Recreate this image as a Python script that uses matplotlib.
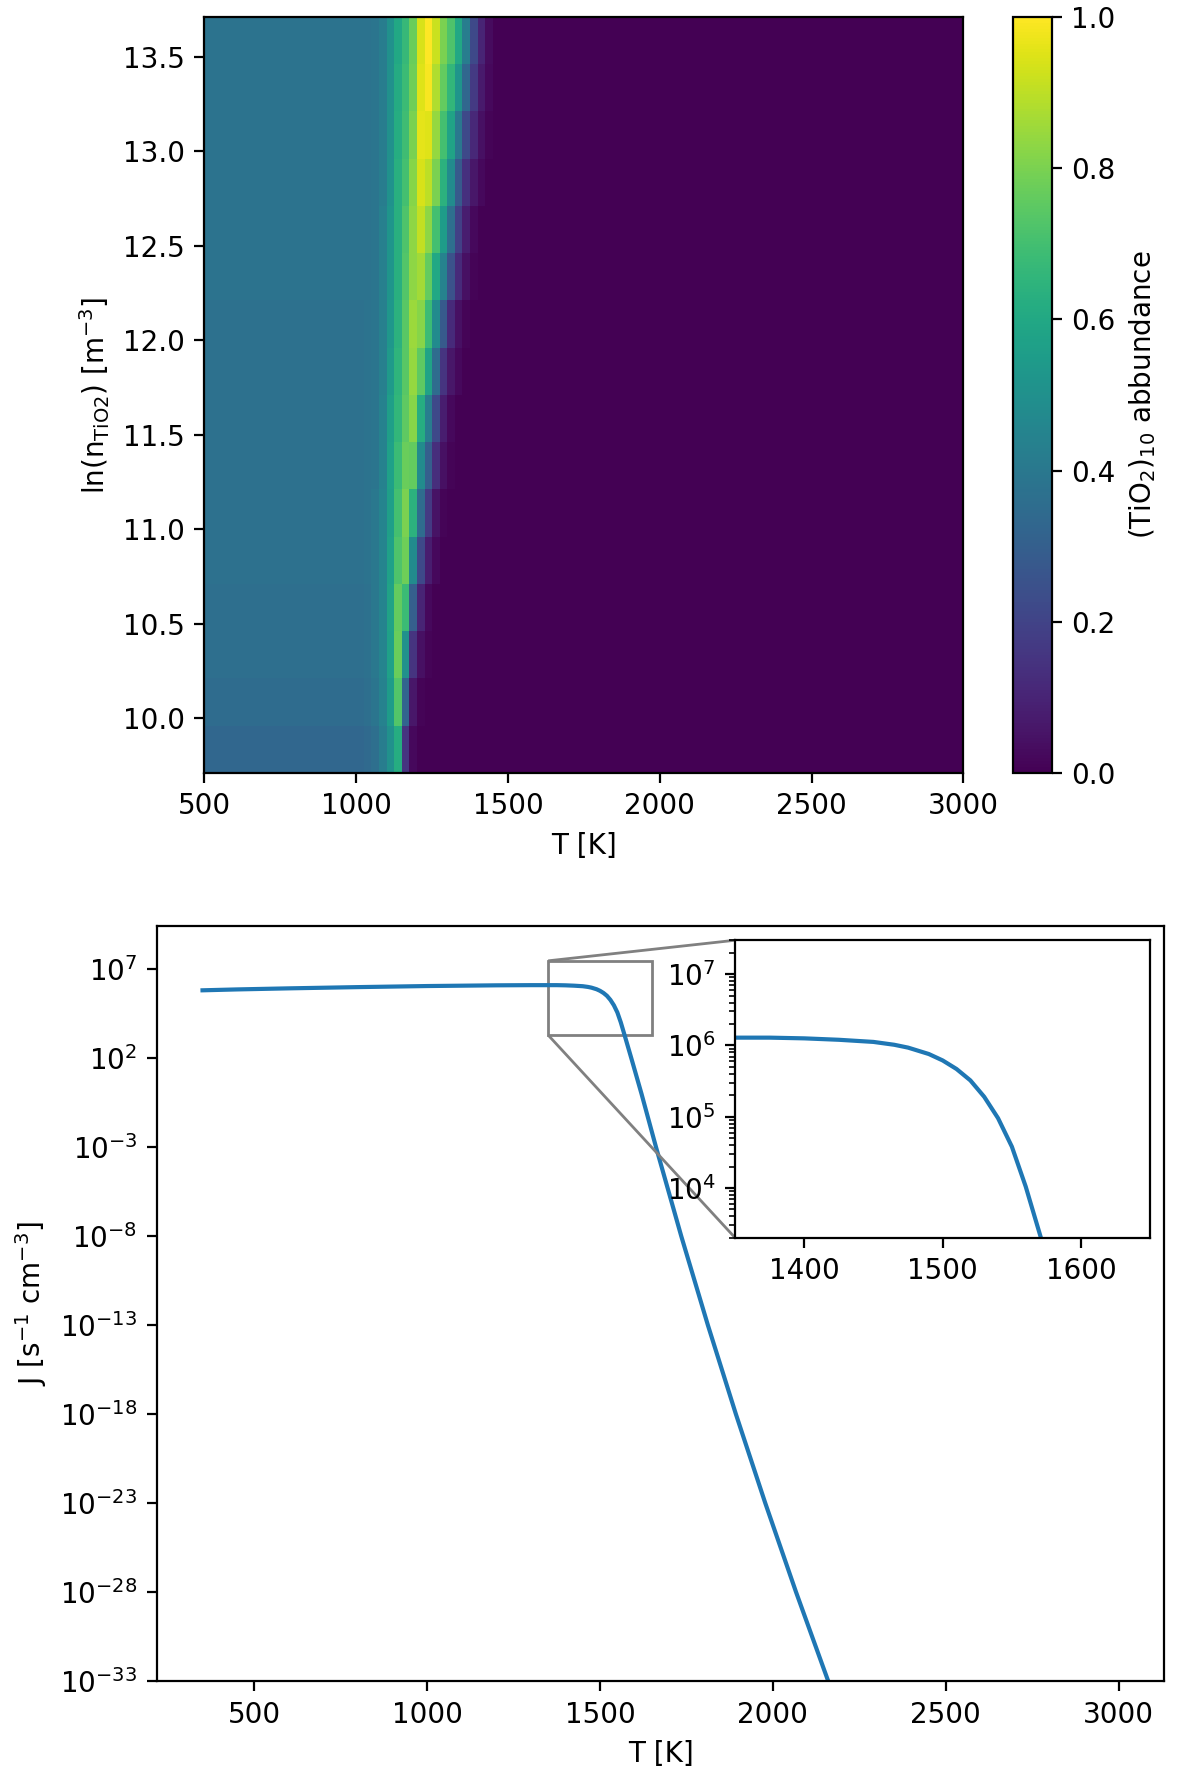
import numpy as np
import matplotlib
matplotlib.use("Agg")
import matplotlib.pyplot as plt
from matplotlib.ticker import NullLocator
from mpl_toolkits.axes_grid1.inset_locator import mark_inset

# ---- top panel: (TiO2)10 abundance over T and ln(n) ----
# cell edges of the grid (25 K wide in T, 0.25 wide in ln n)
T_edges = np.arange(500, 3001, 25)
lnn_edges = np.arange(9.71, 13.72, 0.25)

# abundance left of the band (T < 1000 K), one value per ln(n) row (bottom -> top)
plateau = [0.33, 0.35, 0.36, 0.36, 0.37, 0.37, 0.37, 0.37,
           0.37, 0.37, 0.38, 0.38, 0.38, 0.38, 0.38, 0.38]

# band region, cells starting at these temperatures
band_T = [1000, 1025, 1050, 1075, 1100, 1125, 1150, 1175, 1200,
          1225, 1250, 1275, 1300, 1325, 1350, 1375, 1400, 1425]

band_rows = [
    [0.33, 0.34, 0.36, 0.42, 0.50, 0.62, 0.15, 0.02, 0.0, 0.0, 0.0, 0.0, 0.0, 0.0, 0.0, 0.0, 0.0, 0.0],
    [0.35, 0.36, 0.39, 0.44, 0.55, 0.73, 0.32, 0.06, 0.01, 0.0, 0.0, 0.0, 0.0, 0.0, 0.0, 0.0, 0.0, 0.0],
    [0.36, 0.37, 0.40, 0.45, 0.57, 0.77, 0.50, 0.15, 0.04, 0.01, 0.0, 0.0, 0.0, 0.0, 0.0, 0.0, 0.0, 0.0],
    [0.36, 0.37, 0.40, 0.45, 0.58, 0.76, 0.68, 0.30, 0.10, 0.02, 0.0, 0.0, 0.0, 0.0, 0.0, 0.0, 0.0, 0.0],
    [0.37, 0.38, 0.40, 0.45, 0.57, 0.72, 0.78, 0.48, 0.22, 0.08, 0.02, 0.0, 0.0, 0.0, 0.0, 0.0, 0.0, 0.0],
    [0.37, 0.38, 0.40, 0.45, 0.56, 0.70, 0.80, 0.64, 0.35, 0.17, 0.05, 0.01, 0.0, 0.0, 0.0, 0.0, 0.0, 0.0],
    [0.37, 0.38, 0.39, 0.44, 0.57, 0.68, 0.77, 0.76, 0.48, 0.30, 0.13, 0.04, 0.01, 0.0, 0.0, 0.0, 0.0, 0.0],
    [0.37, 0.38, 0.39, 0.44, 0.56, 0.66, 0.75, 0.82, 0.62, 0.42, 0.22, 0.08, 0.02, 0.0, 0.0, 0.0, 0.0, 0.0],
    [0.37, 0.38, 0.39, 0.43, 0.54, 0.65, 0.74, 0.84, 0.75, 0.58, 0.35, 0.15, 0.06, 0.02, 0.0, 0.0, 0.0, 0.0],
    [0.37, 0.38, 0.39, 0.43, 0.53, 0.64, 0.74, 0.85, 0.82, 0.68, 0.48, 0.28, 0.12, 0.04, 0.01, 0.0, 0.0, 0.0],
    [0.38, 0.38, 0.39, 0.43, 0.52, 0.63, 0.73, 0.83, 0.86, 0.76, 0.60, 0.44, 0.25, 0.12, 0.04, 0.01, 0.0, 0.0],
    [0.38, 0.38, 0.39, 0.43, 0.52, 0.63, 0.72, 0.83, 0.91, 0.83, 0.70, 0.55, 0.36, 0.19, 0.08, 0.02, 0.0, 0.0],
    [0.38, 0.38, 0.39, 0.42, 0.51, 0.63, 0.70, 0.82, 0.94, 0.90, 0.80, 0.64, 0.48, 0.28, 0.14, 0.06, 0.02, 0.0],
    [0.38, 0.38, 0.39, 0.42, 0.50, 0.62, 0.69, 0.80, 0.96, 0.95, 0.84, 0.70, 0.58, 0.40, 0.22, 0.11, 0.04, 0.01],
    [0.38, 0.38, 0.39, 0.42, 0.50, 0.61, 0.68, 0.78, 0.95, 0.99, 0.88, 0.76, 0.66, 0.52, 0.33, 0.17, 0.07, 0.02],
    [0.38, 0.38, 0.39, 0.42, 0.50, 0.60, 0.67, 0.77, 0.94, 1.00, 0.92, 0.80, 0.72, 0.60, 0.42, 0.22, 0.10, 0.03],
]

# ---- bottom panel: nucleation rate J(T) ----
T_J = [350, 450, 600, 800, 1000, 1200, 1300, 1350, 1375, 1400, 1425, 1450,
       1465, 1475, 1490, 1500, 1510, 1520, 1530, 1540, 1550, 1560, 1571,
       1592, 1620, 1662, 1735, 1812, 1893, 1978, 2067, 2160, 2300, 2500,
       2750, 3000]
logJ = [5.82, 5.87, 5.93, 6.00, 6.06, 6.10, 6.11, 6.11, 6.11, 6.10, 6.08, 6.05,
        6.01, 5.97, 5.88, 5.79, 5.67, 5.51, 5.28, 4.98, 4.58, 4.02, 3.30,
        1.9, 0.0, -3.0, -8.0, -13.0, -18.0, -23.0, -28.0, -33.0, -40.0, -47.0,
        -54.0, -60.0]


# build the abundance grid from the rows
n_left = (band_T[0] - T_edges[0]) // 25
grid = []
for p, r in zip(plateau, band_rows):
    left = [p] * n_left
    right = [0.0] * (len(T_edges) - 1 - n_left - len(r))
    grid.append(left + r + right)
grid = np.array(grid)

fig = plt.figure(figsize=(6, 8.92), dpi=200)

ax1 = fig.add_axes([0.1704, 0.5667, 0.6324, 0.4238])
cax = fig.add_axes([0.8442, 0.5667, 0.0325, 0.4238])
mesh = ax1.pcolormesh(T_edges, lnn_edges, grid, cmap='viridis', vmin=0, vmax=1)
ax1.set_xticks([500, 1000, 1500, 2000, 2500, 3000])
ax1.set_yticks([10.0, 10.5, 11.0, 11.5, 12.0, 12.5, 13.0, 13.5])
ax1.set_xlabel('T [K]')
ax1.set_ylabel(r'ln(n$_{\mathrm{TiO2}}$) [m$^{-3}$]')
cb = fig.colorbar(mesh, cax=cax)
cb.set_ticks([0.0, 0.2, 0.4, 0.6, 0.8, 1.0])
cb.set_label(r'(TiO$_2$)$_{10}$ abbundance')

ax2 = fig.add_axes([0.1306, 0.0577, 0.8397, 0.4233])
J = 10.0 ** np.array(logJ)
ax2.plot(T_J, J, color='#1f77b4')
ax2.set_yscale('log')
ax2.set_ylim(1e-33, 10 ** 9.44)
ax2.set_yticks(10.0 ** np.arange(-33, 8, 5))
ax2.yaxis.set_minor_locator(NullLocator())
ax2.set_xticks([500, 1000, 1500, 2000, 2500, 3000])
ax2.set_xlabel('T [K]')
ax2.set_ylabel(r'J [s$^{-1}$ cm$^{-3}$]')

axins = ax2.inset_axes([0.574, 0.587, 0.412, 0.394])
axins.plot(T_J, J, color='#1f77b4')
axins.set_yscale('log')
axins.set_xlim(1350, 1650)
axins.set_ylim(2e3, 3e7)
axins.set_xticks([1400, 1500, 1600])
mark_inset(ax2, axins, loc1=2, loc2=3, fc='none', ec='0.5')

plt.savefig('out.png', dpi=200)
